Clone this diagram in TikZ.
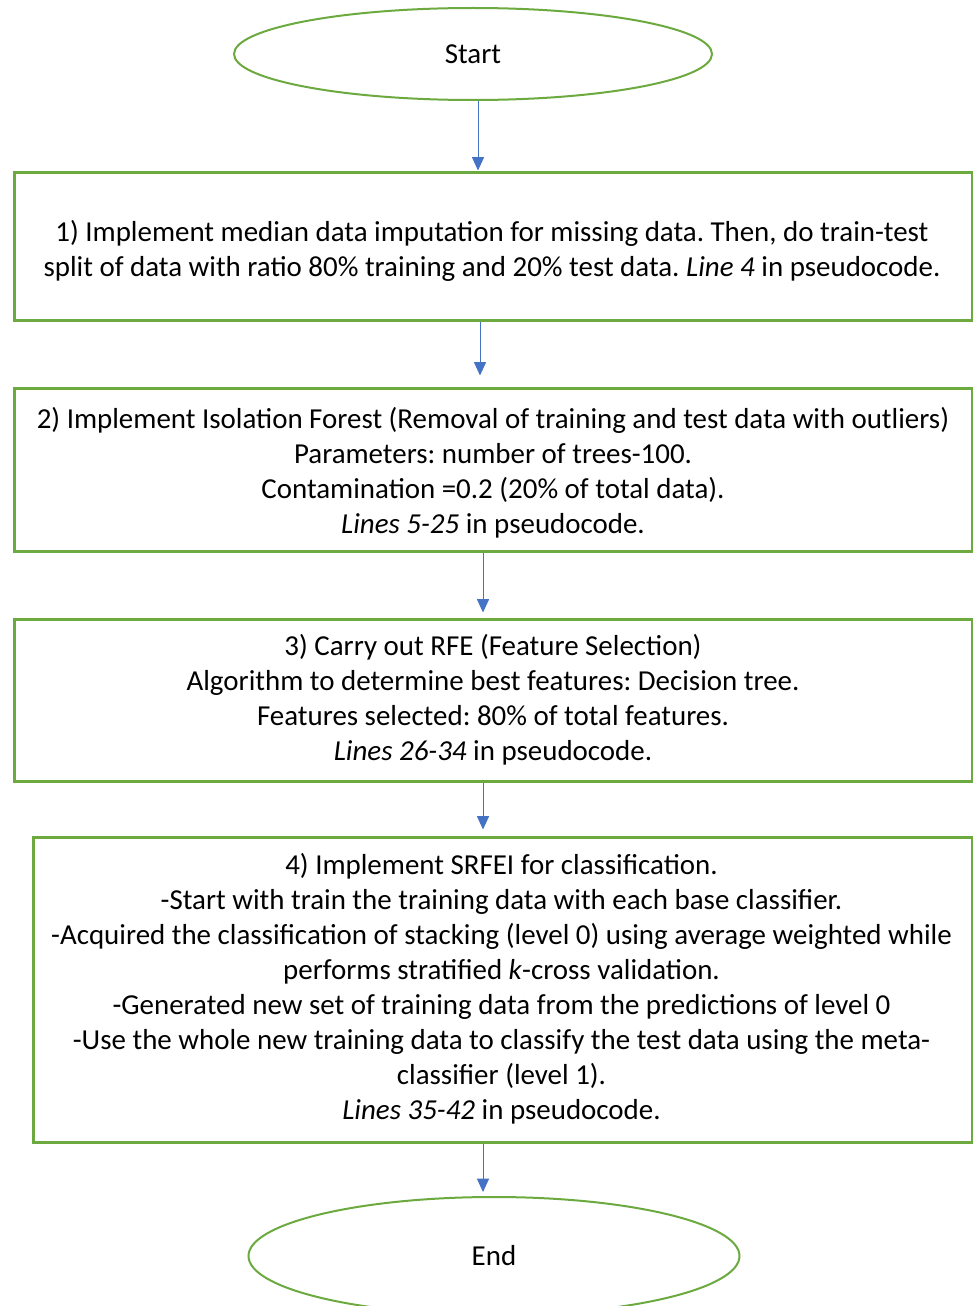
\documentclass[tikz,border=0pt]{standalone}
\usepackage{fontspec}
\setmainfont{Carlito}
\frenchspacing
\usetikzlibrary{arrows.meta,shapes.geometric}
\definecolor{boxgreen}{RGB}{108,170,64}
\definecolor{arrowblue}{RGB}{68,114,196}
\tikzset{
  x=0.75pt, y=-0.75pt,
  every node/.style={font=\fontsize{21.7}{26.25}\selectfont, text=black},
  stepbox/.style={draw=boxgreen, line width=2.25pt, rectangle, align=center, inner sep=0pt},
  term/.style={draw=boxgreen, line width=1.5pt, ellipse, inner sep=0pt},
  arr/.style={draw=arrowblue, line width=0.75pt, -{Triangle[width=9pt,length=10pt]}},
}
\begin{document}
\begin{tikzpicture}
\useasboundingbox (0,0) rectangle (973,1306);
\node[term, minimum width=478*0.75pt, minimum height=92*0.75pt] (start) at (473,54) {Start};
\node[stepbox, minimum width=958*0.75pt, minimum height=148*0.75pt] (b1) at (493,246) {};
\node (t1) at (492,250.5) [align=center] {1) Implement median data imputation for missing data. Then, do train-test\\split of data with ratio 80\% training and 20\% test data. \textit{Line 4} in pseudocode.};
\node[stepbox, minimum width=958*0.75pt, minimum height=163*0.75pt] (b2) at (493,469.5) {};
\node (t2) at (493,473) [align=center] {2) Implement Isolation Forest (Removal of training and test data with outliers)\\Parameters: number of trees-100.\\Contamination =0.2 (20\% of total data).\\\textit{Lines 5-25} in pseudocode.};
\node[stepbox, minimum width=958*0.75pt, minimum height=162*0.75pt] (b3) at (493,700) {};
\node (t3) at (493,700) [align=center] {3) Carry out RFE (Feature Selection)\\Algorithm to determine best features: Decision tree.\\Features selected: 80\% of total features.\\\textit{Lines 26-34} in pseudocode.};
\node[stepbox, minimum width=939*0.75pt, minimum height=305*0.75pt] (b4) at (502.5,989.5) {};
\node (t4) at (501.5,989) [align=center] {4) Implement SRFEI for classification.\\-Start with train the training data with each base classifier.\\-Acquired the classification of stacking (level 0) using average weighted while\\performs stratified \textit{k}-cross validation.\\-Generated new set of training data from the predictions of level 0\\-Use the whole new training data to classify the test data using the meta-\\classifier (level 1).\\\textit{Lines 35-42} in pseudocode.};
\node[term, minimum width=491*0.75pt, minimum height=118*0.75pt] (end) at (494,1256) {End};
\draw[arr] (start.south -| 478,0) -- (b1.north -| 478,0);
\draw[arr, shorten >=11*0.75pt] (b1.south -| 480,0) -- (b2.north -| 480,0);
\draw[arr, shorten >=5*0.75pt] (b2.south -| 483,0) -- (b3.north -| 483,0);
\draw[arr, shorten >=6*0.75pt] (b3.south -| 483,0) -- (b4.north -| 483,0);
\draw[arr, shorten >=4*0.75pt] (b4.south -| 483,0) -- (end.north -| 483,0);
\end{tikzpicture}
\end{document}
